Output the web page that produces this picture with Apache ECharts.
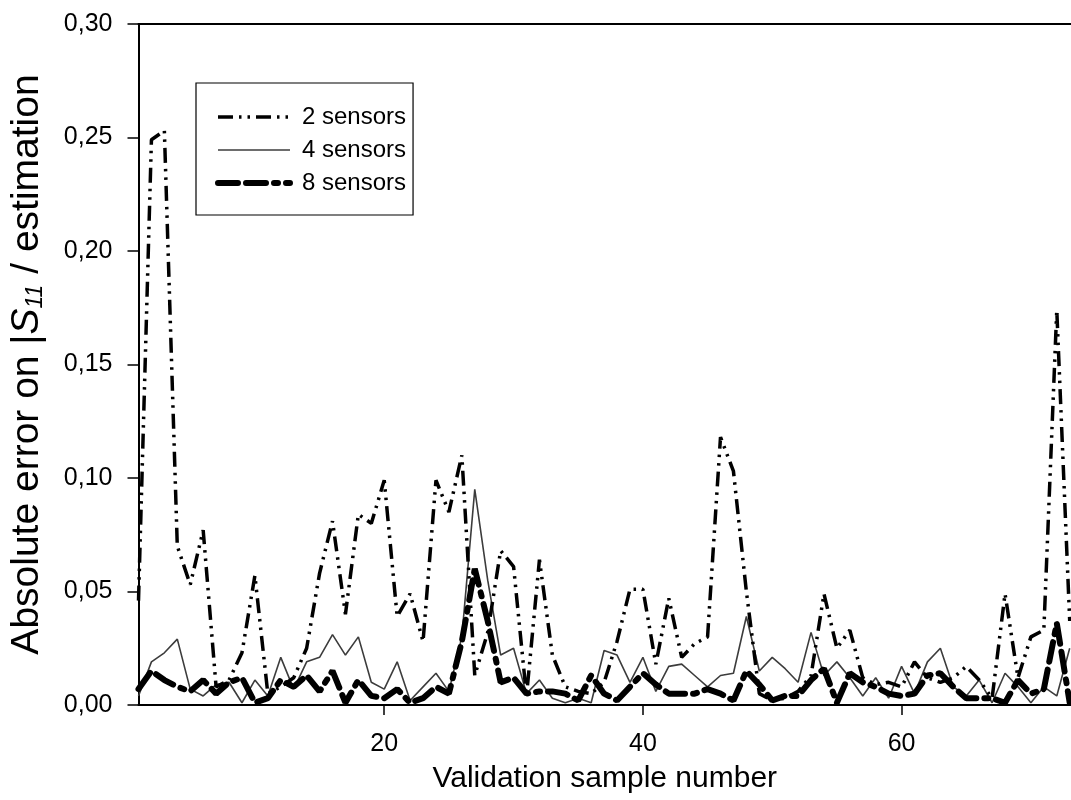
<!DOCTYPE html>
<html>
<head>
<meta charset="utf-8">
<script src="https://cdn.jsdelivr.net/npm/echarts@6/dist/echarts.min.js"></script>
<style>
  html, body { margin: 0; padding: 0; background: #fff; }
  #chart { width: 1071px; height: 800px; }
</style>
</head>
<body>
<div id="chart"></div>
<script>
const samples = [1, 2, 3, 4, 5, 6, 7, 8, 9, 10, 11, 12, 13, 14, 15, 16, 17, 18, 19, 20,
  21, 22, 23, 24, 25, 26, 27, 28, 29, 30, 31, 32, 33, 34, 35, 36, 37, 38, 39, 40,
  41, 42, 43, 44, 45, 46, 47, 48, 49, 50, 51, 52, 53, 54, 55, 56, 57, 58, 59, 60,
  61, 62, 63, 64, 65, 66, 67, 68, 69, 70, 71, 72, 73]

const twoSensors = [0.046, 0.249, 0.253, 0.070, 0.053, 0.077, 0.008, 0.011, 0.023, 0.057,
  0.005, 0.008, 0.012, 0.025, 0.058, 0.081, 0.040, 0.084, 0.080, 0.099,
  0.039, 0.049, 0.028, 0.099, 0.085, 0.110, 0.013, 0.032, 0.068, 0.061,
  0.004, 0.064, 0.022, 0.008, 0.006, 0.005, 0.010, 0.028, 0.051, 0.051,
  0.018, 0.047, 0.021, 0.027, 0.030, 0.118, 0.103, 0.050, 0.005, 0.002,
  0.003, 0.006, 0.013, 0.049, 0.025, 0.033, 0.012, 0.009, 0.010, 0.008,
  0.019, 0.012, 0.010, 0.012, 0.017, 0.011, 0.003, 0.049, 0.012, 0.030,
  0.033, 0.174, 0.037]

const fourSensors = [0.004, 0.019, 0.023, 0.029, 0.007, 0.004, 0.009, 0.010, 0.001, 0.011,
  0.004, 0.021, 0.007, 0.019, 0.021, 0.031, 0.022, 0.030, 0.010, 0.007,
  0.019, 0.002, 0.008, 0.014, 0.006, 0.030, 0.095, 0.055, 0.022, 0.025,
  0.005, 0.011, 0.003, 0.001, 0.003, 0.001, 0.024, 0.022, 0.010, 0.021,
  0.006, 0.017, 0.018, 0.013, 0.008, 0.013, 0.014, 0.039, 0.015, 0.021,
  0.016, 0.010, 0.032, 0.013, 0.019, 0.012, 0.004, 0.012, 0.003, 0.017,
  0.005, 0.019, 0.025, 0.008, 0.004, 0.011, 0.001, 0.014, 0.008, 0.001,
  0.008, 0.004, 0.025]

const eightSensors = [0.007, 0.015, 0.011, 0.008, 0.006, 0.011, 0.005, 0.010, 0.012, 0.001,
  0.003, 0.011, 0.008, 0.013, 0.006, 0.015, 0.001, 0.011, 0.004, 0.003,
  0.007, 0.001, 0.003, 0.008, 0.005, 0.028, 0.060, 0.037, 0.010, 0.012,
  0.005, 0.006, 0.006, 0.005, 0.002, 0.013, 0.005, 0.002, 0.008, 0.014,
  0.009, 0.005, 0.005, 0.005, 0.007, 0.005, 0.002, 0.015, 0.009, 0.002,
  0.004, 0.004, 0.011, 0.016, 0.001, 0.014, 0.010, 0.008, 0.005, 0.004,
  0.005, 0.013, 0.014, 0.008, 0.003, 0.003, 0.003, 0.001, 0.011, 0.005,
  0.007, 0.036, 0.001]

const xTicks = [20, 40, 60]
const seriesNames = ['2 sensors', '4 sensors', '8 sensors']

const font = 'Liberation Sans, Arial, sans-serif'
const pairs = vals => samples.map((s, i) => [s, vals[i]])

// line looks, shared by the plot lines and the legend keys
const styles = {
  '2 sensors': { color: '#000', width: 3.5, type: [15, 6, 2.5, 6, 2.5, 6] },
  '4 sensors': { color: '#3c3c3c', width: 1.6, type: 'solid' },
  '8 sensors': { color: '#000', width: 6, type: [20, 8, 20, 8, 4, 8], cap: 'round' }
}

const chart = echarts.init(document.getElementById('chart'))
chart.setOption({
  animation: false,
  backgroundColor: '#fff',
  grid: { left: 138, right: 0, top: 24, bottom: 95 },
  legend: {
    orient: 'vertical',
    left: 196,
    top: 83,
    padding: [22, 7, 20, 19],
    itemGap: 9,
    itemWidth: 72,
    itemHeight: 20,
    borderColor: '#000',
    borderWidth: 1.2,
    backgroundColor: '#fff',
    itemStyle: { opacity: 0 },
    data: seriesNames.map(n => ({ name: n, lineStyle: styles[n] })),
    textStyle: { fontFamily: font, fontSize: 24, color: '#000', padding: [0, 0, 0, 7] }
  },
  xAxis: [
    {
      type: 'value',
      min: 1,
      max: 73.1,
      name: 'Validation sample number',
      nameLocation: 'middle',
      nameGap: 59,
      nameTextStyle: { fontFamily: font, fontSize: 30, color: '#000' },
      axisLine: { lineStyle: { color: '#000', width: 2 } },
      axisTick: { customValues: xTicks, length: 10, lineStyle: { color: '#000', width: 1.5 } },
      axisLabel: { customValues: xTicks, margin: 27, fontFamily: font, fontSize: 25, color: '#000' },
      splitLine: { show: false }
    },
    {
      type: 'value',
      position: 'top',
      min: 1,
      max: 73.1,
      axisLine: { show: true, onZero: false, lineStyle: { color: '#000', width: 2 } },
      axisTick: { show: false },
      axisLabel: { show: false },
      splitLine: { show: false }
    }
  ],
  yAxis: {
    type: 'value',
    min: 0,
    max: 0.3,
    interval: 0.05,
    name: '{n|Absolute error on |}{i|S}{sub|11}{n| / estimation}',
    nameLocation: 'middle',
    nameRotate: 90,
    nameGap: 91,
    nameTextStyle: {
      fontFamily: font,
      fontSize: 39,
      color: '#000',
      rich: {
        n: { fontFamily: font, fontSize: 39, color: '#000' },
        i: { fontFamily: font, fontSize: 39, fontStyle: 'italic', color: '#000' },
        sub: { fontFamily: font, fontSize: 23, fontStyle: 'italic', color: '#000', verticalAlign: 'bottom', padding: [17, 0, 0, 0] }
      }
    },
    axisLine: { show: true, lineStyle: { color: '#000', width: 2 } },
    axisTick: { show: true, length: 11, lineStyle: { color: '#000', width: 1.5 } },
    axisLabel: {
      margin: 26,
      fontFamily: font,
      fontSize: 25,
      color: '#000',
      formatter: v => v.toFixed(2).replace('.', ',')
    },
    splitLine: { show: false }
  },
  series: [
    {
      name: '2 sensors',
      type: 'line',
      data: pairs(twoSensors),
      symbol: 'none',
      z: 4,
      itemStyle: { color: '#000' },
      lineStyle: styles['2 sensors']
    },
    {
      name: '4 sensors',
      type: 'line',
      data: pairs(fourSensors),
      symbol: 'none',
      z: 3,
      itemStyle: { color: '#3c3c3c' },
      lineStyle: styles['4 sensors']
    },
    {
      name: '8 sensors',
      type: 'line',
      data: pairs(eightSensors),
      symbol: 'none',
      z: 5,
      itemStyle: { color: '#000' },
      lineStyle: styles['8 sensors']
    }
  ]
})
</script>
</body>
</html>
